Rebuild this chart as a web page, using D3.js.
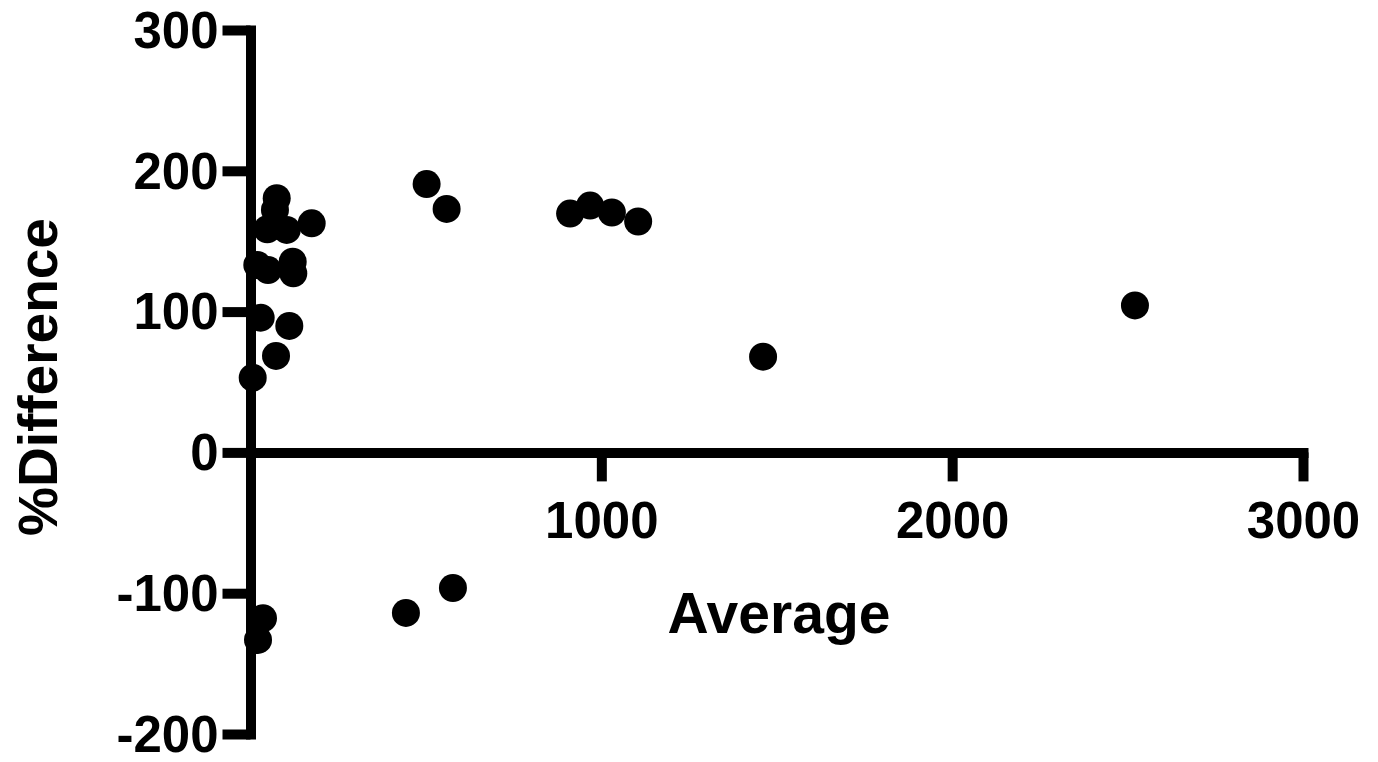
<!DOCTYPE html>
<html>
<head>
<meta charset="utf-8">
<script src="https://cdn.jsdelivr.net/npm/d3@7"></script>
<style>
  body { margin: 0; background: #fff; }
  text { font-family: "Liberation Sans", Arial, Helvetica, sans-serif; font-weight: bold; }
</style>
</head>
<body>
<script>
// Bland-Altman style scatter: average vs % difference
const averages = [74.7, 69.7, 174.4, 47.9, 103.2, 19.4, 49.9, 120.3, 122, 29, 110.6, 72.7, 6.3,
                  35.6, 21.4, 443, 577, 502, 559, 911, 968, 1030, 1105, 1461, 2521];
const differences = [180.5, 172.2, 162.7, 158.5, 158.0, 133.1, 129.5, 135.4, 127.2, 95.7, 89.8, 68.5, 53.1,
                     -117.8, -133.2, -114, -96.3, 190.6, 172.9, 169.6, 175.3, 170.4, 164, 68, 104.4];
const xTicks = [1000, 2000, 3000];
const yTicks = [-200, -100, 0, 100, 200, 300];

const width = 1378, height = 762;

const svg = d3.select("body").append("svg")
    .attr("width", width)
    .attr("height", height);

const x = d3.scaleLinear().domain([0, 3000]).range([250.5, 1303]);
const y = d3.scaleLinear().domain([-200, 300]).range([734, 30]);

const plain = d => String(d);  // "1000", "-100" (no comma, plain hyphen)

// y axis
const yAxis = svg.append("g")
    .attr("transform", `translate(${x(0)},0)`)
    .call(d3.axisLeft(y).tickValues(yTicks).tickFormat(plain)
      .tickSize(28).tickSizeOuter(0).tickPadding(4));

// x axis
const xAxis = svg.append("g")
    .attr("transform", `translate(0,${y(0)})`)
    .call(d3.axisBottom(x).tickValues(xTicks).tickFormat(plain)
      .tickSize(29).tickSizeOuter(0).tickPadding(20));

[yAxis, xAxis].forEach(g => {
  g.select(".domain")
    .attr("stroke", "#000")
    .attr("stroke-width", 10)
    .attr("stroke-linecap", "square");
  g.selectAll(".tick line")
    .attr("stroke", "#000")
    .attr("stroke-width", 10);
  g.selectAll(".tick text")
    .attr("fill", "#000")
    .style("font-size", "51px");
});
yAxis.selectAll(".tick text").attr("dy", "0.34em");
xAxis.selectAll(".tick text").attr("dy", "0.71em");

// points
svg.append("g")
  .selectAll("circle")
  .data(averages.map((a, i) => [a, differences[i]]))
  .join("circle")
    .attr("cx", d => x(d[0]))
    .attr("cy", d => y(d[1]))
    .attr("r", 14)
    .attr("fill", "#000");

// axis titles
svg.append("text")
    .attr("x", 779)
    .attr("y", 633)
    .attr("text-anchor", "middle")
    .style("font-size", "57px")
    .text("Average");

svg.append("text")
    .attr("transform", "translate(57,377) rotate(-90)")
    .attr("text-anchor", "middle")
    .style("font-size", "55px")
    .text("%Difference");
</script>
</body>
</html>
